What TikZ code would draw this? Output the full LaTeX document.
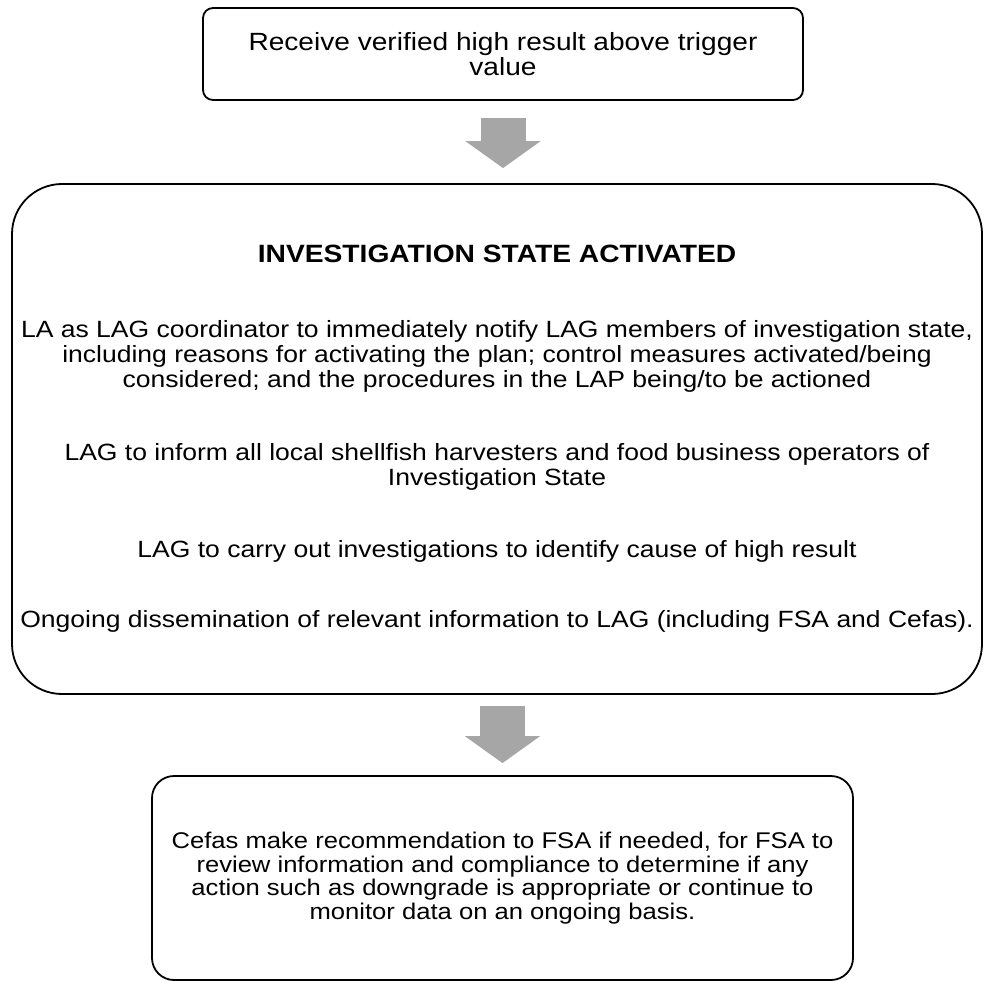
\documentclass[tikz,border=0pt]{standalone}
\usepackage{fontspec}
\setmainfont{Liberation Sans}[FakeStretch=1.128]
\usetikzlibrary{arrows.meta}
\definecolor{arrowgray}{RGB}{166,166,166}

\begin{document}
\begin{tikzpicture}[x=1pt,y=-1pt,
  box/.style={draw, line width=1.8pt, align=center, inner sep=0pt},
  flow/.style={draw=arrowgray, line width=45pt, -{Triangle[length=27pt,width=74pt]}}]
\useasboundingbox (0,0) rectangle (984,981);

\node[box, rounded corners=10pt, minimum width=600, minimum height=92, font=\fontsize{24.9}{25}\selectfont] (recv) at (503,54) {Receive verified high result above trigger\\value};
\node[box, rounded corners=50pt, minimum width=970, minimum height=510, font=\fontsize{23.5}{25}\selectfont] (invest) at (497,439) {{\fontsize{25}{25}\selectfont\bfseries INVESTIGATION STATE ACTIVATED}\\[50pt]
LA as LAG coordinator to immediately notify LAG members of investigation state,\\
including reasons for activating the plan; control measures activated/being\\
considered; and the procedures in the LAP being/to be actioned\\[48pt]
LAG to inform all local shellfish harvesters and food business operators of\\
Investigation State\\[47pt]
LAG to carry out investigations to identify cause of high result\\[45pt]
Ongoing dissemination of relevant information to LAG (including FSA and Cefas).};
\node[box, rounded corners=22pt, minimum width=701, minimum height=204, font=\fontsize{22.7}{23.6}\selectfont] (recom) at (502.5,878) {Cefas make recommendation to FSA if needed, for FSA to\\
review information and compliance to determine if any\\
action such as downgrade is appropriate or continue to\\
monitor data on an ongoing basis.};

\path[flow, shorten <=17pt, shorten >=15pt] (recv.south) -- (recv.south |- invest.north);
\path[flow, shorten <=11pt, shorten >=12pt] (recom.north |- invest.south) -- (recom.north);
\end{tikzpicture}
\end{document}
